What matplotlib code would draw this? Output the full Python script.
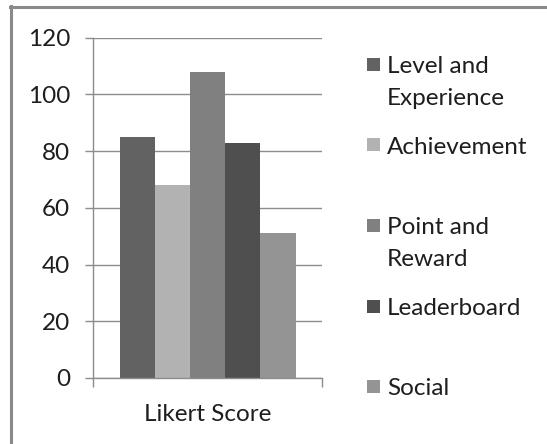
import matplotlib
matplotlib.use("Agg")
import matplotlib.pyplot as plt
from matplotlib.lines import Line2D
from matplotlib.patches import Rectangle

category = "Likert Score"
series_names = ["Level and\nExperience", "Achievement", "Point and\nReward", "Leaderboard", "Social"]
series_values = [85, 68, 108, 83, 51]
series_colors = ["#626262", "#b2b2b2", "#808080", "#4f4f4f", "#949494"]
y_ticks = [0, 20, 40, 60, 80, 100, 120]

W, H = 547, 444
plt.rcParams['font.family'] = ['Lato', 'DejaVu Sans']
FS = 17.5
TXT = "#1e1e1e"
GRID = "#8c8c8c"

fig = plt.figure(figsize=(W / 100, H / 100), dpi=100)
fig.patch.set_facecolor("white")

def fx(px):
    return px / W

def fy(py):
    return 1 - py / H

# axes placement (pixels)
left, right, top, bottom = 93, 322, 37.7, 378
ax = fig.add_axes([fx(left), fy(bottom), fx(right - left), (bottom - top) / H])

n = len(series_values)
group = 176 / 229
bw = group / n
for i, (v, c) in enumerate(zip(series_values, series_colors)):
    ax.bar(-group / 2 + bw * (i + 0.5), v, width=bw, color=c, linewidth=0, zorder=2)

ax.set_xlim(-0.5, 0.5)
ax.set_ylim(0, 120)
ax.set_yticks(y_ticks)
ax.set_yticklabels([str(t) for t in y_ticks], fontsize=FS, color=TXT)
ax.yaxis.grid(True, color=GRID, linewidth=1.0, zorder=0)
ax.set_axisbelow(True)

for s in ["top", "right"]:
    ax.spines[s].set_visible(False)
for s in ["left", "bottom"]:
    ax.spines[s].set_color(GRID)
    ax.spines[s].set_linewidth(1.0)

ax.tick_params(axis="y", direction="out", length=5.8, width=1.0, color=GRID, pad=10.5)
ax.set_xticks([-0.5, 0.5])
ax.set_xticklabels(["", ""])
ax.tick_params(axis="x", which="major", direction="out", length=6.5, width=1.0, color=GRID)
ax.set_xticks([0], labels=[category], minor=True)
ax.tick_params(axis="x", which="minor", length=0, pad=19, labelsize=FS, labelcolor=TXT)

# legend drawn manually
sq = 13
centers = [64.5 + i * 80.5 for i in range(n)]
line_gap = 32
for name, c, cy in zip(series_names, series_colors, centers):
    fig.patches.append(Rectangle((fx(367), fy(cy + sq / 2)), sq / W, sq / H,
                                 transform=fig.transFigure, facecolor=c, edgecolor="none"))
    for k, line in enumerate(name.split("\n")):
        fig.text(fx(387), fy(cy + 8.5 + k * line_gap), line, fontsize=FS, color=TXT,
                 ha="left", va="baseline")

# outer border (top and left edges visible)
fig.add_artist(Line2D([fx(10), 1.0], [fy(7), fy(7)], color="#8a8a8a", linewidth=2.2,
                      transform=fig.transFigure))
fig.add_artist(Line2D([fx(11), fx(11)], [fy(6), 0.0], color="#8a8a8a", linewidth=2.2,
                      transform=fig.transFigure))

fig.savefig("out.png", dpi=100)
